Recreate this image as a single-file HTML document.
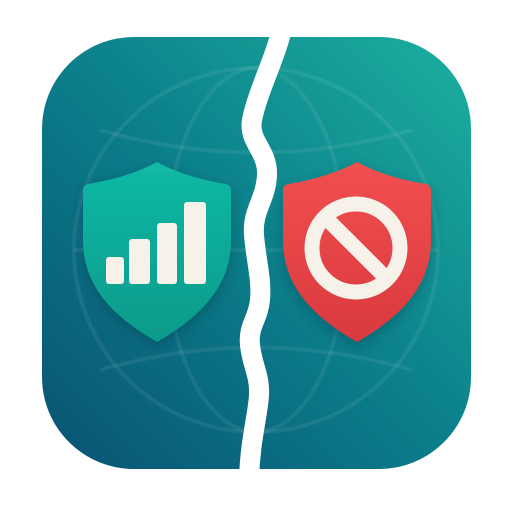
<!DOCTYPE html>
<html><head><style>html,body{margin:0;padding:0;background:#fff;width:512px;height:512px;overflow:hidden}</style></head>
<body>
<svg width="512" height="512" viewBox="0 0 512 512" xmlns="http://www.w3.org/2000/svg">
<defs>
<linearGradient id="bg" x1="1" y1="0" x2="0" y2="1">
<stop offset="0" stop-color="#1cb0a0"/><stop offset="0.5" stop-color="#0b7e8a"/><stop offset="1" stop-color="#095272"/>
</linearGradient>
<linearGradient id="gs" x1="0" y1="0" x2="0" y2="1"><stop offset="0" stop-color="#12b9a5"/><stop offset="1" stop-color="#099a8a"/></linearGradient>
<linearGradient id="rs" x1="0" y1="0" x2="0" y2="1"><stop offset="0" stop-color="#f24f4f"/><stop offset="1" stop-color="#d8393e"/></linearGradient>
<clipPath id="c"><rect x="42" y="37" width="429" height="432" rx="92"/></clipPath>
<filter id="sh" x="-30%" y="-30%" width="160%" height="160%"><feDropShadow dx="0" dy="5" stdDeviation="6" flood-color="#003040" flood-opacity="0.35"/></filter>
</defs>
<rect x="42" y="37" width="429" height="432" rx="92" fill="url(#bg)"/>
<g clip-path="url(#c)" fill="none" stroke="#ffffff" stroke-opacity="0.07" stroke-width="4">
<circle cx="256" cy="250" r="182"/>
<ellipse cx="256" cy="250" rx="90" ry="182"/>
<line x1="74" y1="250" x2="438" y2="250"/>
<path d="M100,130 Q256,175 412,130"/>
<path d="M100,370 Q256,325 412,370"/>
</g>
<path d="M283,25 C275,60 258,90 252,120 C248,142 268,150 267,175 C266,200 252,210 254,235 C256,260 262,280 260,300 C258,320 248,325 250,345 C252,365 260,375 259,395 C258,415 250,440 249,480" fill="none" stroke="#fff" stroke-width="20"/>
<g filter="url(#sh)">
<path d="M157,162 C175,172 200,180 226,184 Q231,185 231,191 L231,240 C231,290 195,320 157,342 C119,320 83,290 83,240 L83,191 Q83,185 88,184 C114,180 139,172 157,162 Z" fill="url(#gs)"/>
</g>
<g fill="#f6f2ea">
<rect x="106" y="257" width="18" height="27" rx="3"/>
<rect x="129" y="239" width="21" height="45" rx="3"/>
<rect x="157" y="223" width="20" height="61" rx="3"/>
<rect x="184" y="202" width="22" height="82" rx="3"/>
</g>
<g filter="url(#sh)">
<path d="M357,162 C375,172 400,180 426,184 Q431,185 431,191 L431,240 C431,290 395,320 357,342 C319,320 283,290 283,240 L283,191 Q283,185 288,184 C314,180 339,172 357,162 Z" fill="url(#rs)"/>
</g>
<circle cx="356" cy="248" r="44" fill="none" stroke="#f6f2ea" stroke-width="15"/>
<line x1="325" y1="217" x2="387" y2="279" stroke="#f6f2ea" stroke-width="15"/>
</svg>
</body></html>
